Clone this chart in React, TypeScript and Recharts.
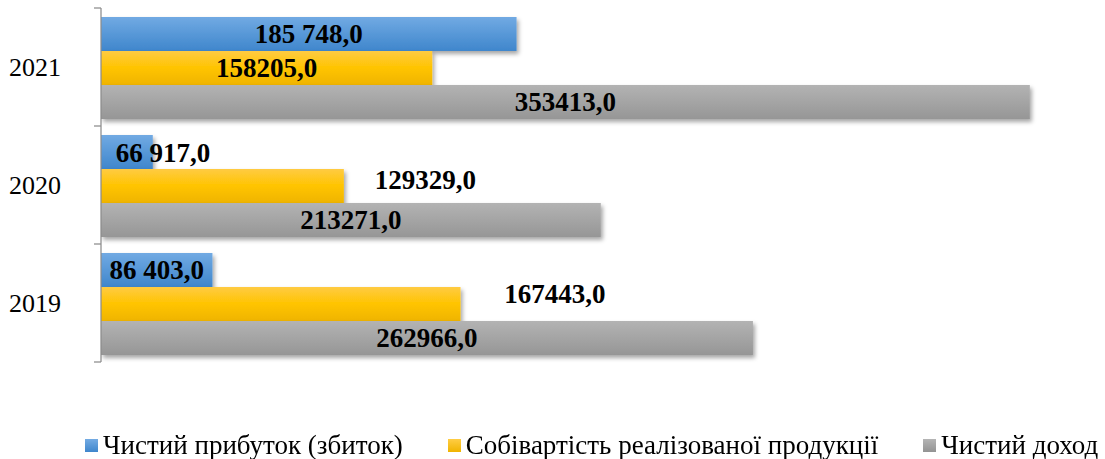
import React from 'react';
import { BarChart, Bar, XAxis, YAxis, Legend, LabelList } from 'recharts';

// ---- data ----
const years = ['2021', '2020', '2019'];
const netProfit = [185748, 66917, 86403];
const costOfSales = [158205, 129329, 167443];
const netIncome = [353413, 213271, 262966];
const seriesNames = [
  'Чистий прибуток (збиток)',
  'Собівартість реалізованої продукції',
  'Чистий доход',
];
const axisMin = 50000;
const axisMax = 360000;

const data = years.map((y, i) => ({
  year: y,
  profit: netProfit[i],
  cost: costOfSales[i],
  income: netIncome[i],
}));

// ---- presentation ----
const FONT = '"Liberation Serif", "Times New Roman", serif';
const TICK_SIZE = 7;
const TICK_MARGIN = 33;

// manual label nudges (as in the original, a few labels were dragged)
const labelNudge: Record<string, { dx: number; dy: number }> = {
  'profit-1': { dx: 36, dy: 1 },
  'cost-1': { dx: 203, dy: -6 },
  'cost-2': { dx: 274, dy: -10 },
};

const fmtGrouped = (v: number) =>
  String(v).replace(/\B(?=(\d{3})+(?!\d))/g, ' ') + ',0';
const fmtPlain = (v: number) => String(v) + ',0';

const makeLabel = (key: string, fmt: (v: number) => string) => (p: any) => {
  const vb = p.viewBox ?? p;
  const x = Number(vb.x);
  const y = Number(vb.y);
  const w = Number(vb.width);
  const h = Number(vb.height);
  const n = labelNudge[`${key}-${p.index}`] ?? { dx: 0, dy: 0 };
  return (
    <text
      x={x + w / 2 + n.dx}
      y={y + h / 2 + n.dy + 1}
      textAnchor="middle"
      dominantBaseline="central"
      fontFamily={FONT}
      fontWeight="bold"
      fontSize={27}
      fill="#000"
    >
      {fmt(Number(p.value))}
    </text>
  );
};

const makeShape = (grad: string) => (p: any) => (
  <rect
    x={p.x}
    y={p.y + 1}
    width={Math.max(0, p.width)}
    height={p.height}
    fill={`url(#${grad})`}
    filter="url(#barShadow)"
  />
);

const YearTick = (props: any) => {
  const { x, y, payload, index, visibleTicksCount } = props;
  const half = payload?.offset ?? 59;
  const axisX = x + TICK_MARGIN + TICK_SIZE;
  const isLast = index === (visibleTicksCount ?? 3) - 1;
  return (
    <g>
      <line x1={axisX - TICK_SIZE} x2={axisX} y1={y - half} y2={y - half} stroke="#8c8c8c" strokeWidth={1.25} />
      {isLast && (
        <line x1={axisX - TICK_SIZE} x2={axisX} y1={y + half} y2={y + half} stroke="#8c8c8c" strokeWidth={1.25} />
      )}
      <text x={x} y={y} textAnchor="end" dominantBaseline="central" fontFamily={FONT} fontSize={26} fill="#000">
        {payload.value}
      </text>
    </g>
  );
};

const legendColors = [
  'linear-gradient(#74abe3, #3f86cc)',
  'linear-gradient(#ffcd45, #f0b400)',
  'linear-gradient(#b5b5b5, #939393)',
];

const LegendContent = () => (
  <div
    style={{
      display: 'flex',
      alignItems: 'center',
      paddingLeft: 85,
      height: 30,
      whiteSpace: 'nowrap',
      overflow: 'hidden',
      fontFamily: FONT,
      fontSize: 27,
      color: '#000',
    }}
  >
    {seriesNames.map((name, i) => (
      <div key={name} style={{ display: 'flex', alignItems: 'center', marginRight: 45 }}>
        <span
          style={{
            display: 'inline-block',
            width: 13,
            height: 13,
            flexShrink: 0,
            background: legendColors[i],
            marginRight: 5,
          }}
        />
        <span>{name}</span>
      </div>
    ))}
  </div>
);

export default function App() {
  return (
    <div style={{ position: 'fixed', left: 0, top: 0, width: 1105, height: 459, background: '#fff' }}>
      <BarChart
        width={1105}
        height={459}
        data={data}
        layout="vertical"
        margin={{ top: 8, right: 55, left: 0, bottom: 67 }}
        barCategoryGap={8}
        barGap={0}
      >
        <defs>
          <linearGradient id="gBlue" x1="0" y1="0" x2="0" y2="1">
            <stop offset="0" stopColor="#71aae3" />
            <stop offset="1" stopColor="#3f86cc" />
          </linearGradient>
          <linearGradient id="gYellow" x1="0" y1="0" x2="0" y2="1">
            <stop offset="0" stopColor="#ffcb42" />
            <stop offset="0.5" stopColor="#ffc400" />
            <stop offset="1" stopColor="#efb400" />
          </linearGradient>
          <linearGradient id="gGray" x1="0" y1="0" x2="0" y2="1">
            <stop offset="0" stopColor="#b3b3b3" />
            <stop offset="1" stopColor="#969696" />
          </linearGradient>
          <filter id="barShadow" x="-10%" y="-30%" width="125%" height="180%">
            <feDropShadow dx="2" dy="3" stdDeviation="2" floodColor="#000" floodOpacity="0.35" />
          </filter>
        </defs>
        <XAxis type="number" hide domain={[axisMin, axisMax]} allowDataOverflow />
        <YAxis
          type="category"
          dataKey="year"
          width={101}
          axisLine={{ stroke: '#8c8c8c', strokeWidth: 1.25 }}
          tickLine={false}
          tickSize={TICK_SIZE}
          tickMargin={TICK_MARGIN}
          tick={<YearTick />}
        />
        <Legend
          verticalAlign="bottom"
          content={<LegendContent />}
          wrapperStyle={{ left: 0, top: 430, width: 1105, height: 30 }}
        />
        <Bar dataKey="profit" name={seriesNames[0]} shape={makeShape('gBlue')} isAnimationActive={false}>
          <LabelList dataKey="profit" content={makeLabel('profit', fmtGrouped)} />
        </Bar>
        <Bar dataKey="cost" name={seriesNames[1]} shape={makeShape('gYellow')} isAnimationActive={false}>
          <LabelList dataKey="cost" content={makeLabel('cost', fmtPlain)} />
        </Bar>
        <Bar dataKey="income" name={seriesNames[2]} shape={makeShape('gGray')} isAnimationActive={false}>
          <LabelList dataKey="income" content={makeLabel('income', fmtPlain)} />
        </Bar>
      </BarChart>
    </div>
  );
}
